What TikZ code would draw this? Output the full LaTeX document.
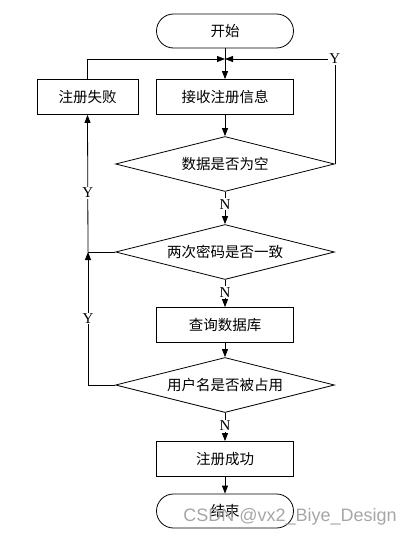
\documentclass[tikz,border=0pt]{standalone}
\usepackage{fontspec}
\setmainfont{Liberation Serif}
\newfontfamily\cjk{Noto Sans CJK SC}
\newfontfamily\wmfont{Liberation Sans}
\usepackage{tikz}
\usetikzlibrary{arrows.meta,calc,positioning,shapes.geometric}

\begin{document}
\begin{tikzpicture}[x=1pt, y=-1pt,
      box/.style={rectangle, minimum width=137pt, minimum height=35pt, align=center, draw=black, line width=0.8pt, font=\cjk\fontsize{14.5}{16}\selectfont},
      term/.style={box, rounded corners=17pt, minimum height=34pt},
      cond/.style={diamond, aspect=4, inner sep=0pt, minimum width=219pt, minimum height=55pt, draw=black, line width=0.8pt, font=\cjk\fontsize{14.5}{16}\selectfont},
      arr/.style={-{Triangle[length=8pt, width=6pt]}, line width=0.8pt},
      yn/.style={fill=white, inner sep=1pt, font=\fontsize{15}{17}\selectfont}
    ]
      \useasboundingbox (0,0) rectangle (414,538);

      % Main column
      \node[term] (start) at (225, 31) {开始};
      \coordinate (join) at (225, 59);
      \node[box] (recv) at (225, 97) {接收注册信息};
      \node[cond] (empty) at (225, 164) {数据是否为空};
      \node[cond] (same) at (225, 252) {两次密码是否一致};
      \node[box] (query) at (225, 325) {查询数据库};
      \node[cond] (used) at (225, 385) {用户名是否被占用};
      \node[box] (ok) at (225, 459) {注册成功};
      \node[term] (stop) at (225, 511) {结束};

      % Left: failure
      \node[box, minimum width=101pt] (fail) at (87.5, 97) {注册失败};
      \coordinate (back) at (88, 252);

      % Forward flow
      \draw[line width=0.8pt] (start) -- (join);
      \draw[arr] (join) -- (recv);
      \draw[arr] (recv) -- (empty);
      \draw[arr] (empty) -- (same) node[yn, pos=0.38]{N};
      \draw[arr] (same) -- (query) node[yn, pos=0.45]{N};
      \draw[arr] (query) -- (used);
      \draw[arr] (used) -- (ok) node[yn, pos=0.45]{N};
      \draw[arr] (ok) -- (stop);

      % Feedback loops
      \draw[arr] (empty.east) |- (join) node[yn, pos=0.5]{Y};
      \draw[arr] (fail.north) |- (join);
      \draw[arr] (used.west) -| (back) node[yn, pos=0.75]{Y};
      \draw[line width=0.8pt] (same.west) -- (back);
      \draw[arr] (back) -- (fail.south) node[yn, pos=0.43]{Y};

      % Watermark
      \node[text=gray!70, font=\wmfont\fontsize{18}{20}\selectfont] (mark) at (290, 517) {CSDN @vx2\_Biye\_Design};
    \end{tikzpicture}
\end{document}
